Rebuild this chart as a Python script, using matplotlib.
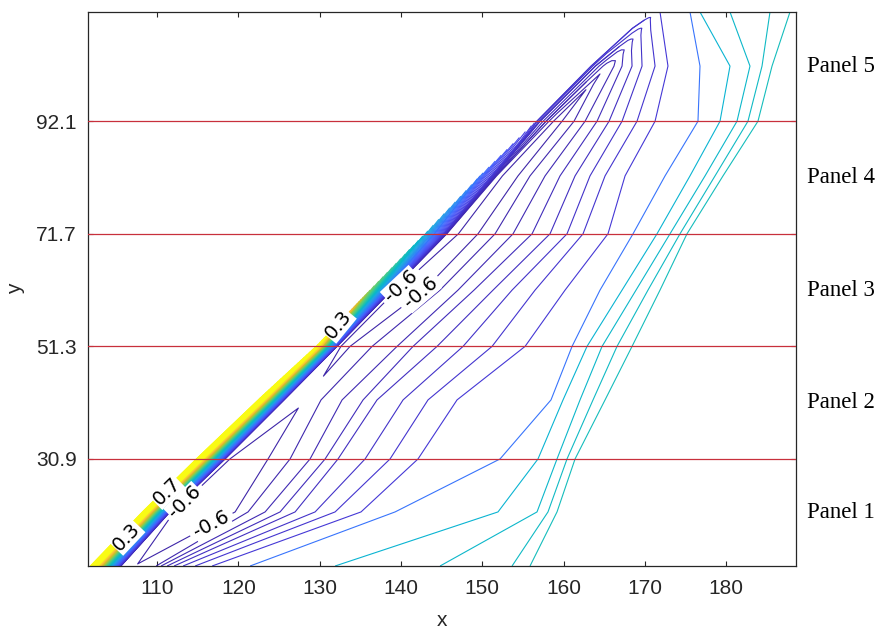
import numpy as np
import matplotlib
matplotlib.use("Agg")
import matplotlib.pyplot as plt
from matplotlib.colors import LinearSegmentedColormap, Normalize
import matplotlib.transforms as mtransforms

# field sampled along rows of constant y; in every row the columns are:
# band edge, band middle, band inner edge, left arm, trough, right arm,
# 7 purple lines, wavy line, 4 teal lines, right edge
row_y = [11.5, 21.3, 30.9, 41.6, 51.3, 61.5, 71.7, 82.2, 92.1, 102.1, 111.9]

row_x = [
    [101.76, 102.90, 105.57, 105.94, 107.30, 108.65, 109.88, 110.49, 111.23, 112.09, 113.20, 114.68, 116.77, 121.44, 131.90, 144.81, 153.67, 155.88, 188.6],
    [108.16, 109.19, 111.60, 111.97, 115.29, 119.60, 121.19, 123.29, 125.13, 126.98, 129.44, 131.90, 135.09, 139.28, 151.94, 156.74, 158.09, 159.20, 188.6],
    [114.80, 115.87, 118.37, 118.86, 121.44, 123.65, 126.36, 128.82, 130.67, 132.26, 135.59, 138.66, 142.10, 152.19, 156.86, 159.20, 160.43, 161.42, 188.6],
    [122.42, 123.38, 125.62, 127.59, 128.33, 129.07, 130.17, 132.76, 135.34, 137.06, 140.26, 143.33, 146.90, 158.46, 159.94, 162.03, 163.63, 165.11, 188.6],
    [129.56, 130.33, 132.14, 132.51, 133.13, 133.74, 136.45, 139.52, 141.49, 144.44, 147.64, 151.21, 155.27, 161.05, 162.89, 164.74, 166.58, 168.43, 188.6],
    [136.20, 137.01, 138.91, 139.40, 141.12, 142.84, 144.81, 147.02, 148.99, 151.33, 153.67, 156.50, 160.19, 164.49, 167.20, 168.92, 170.39, 171.87, 188.6],
    [142.97, 143.78, 145.67, 147.02, 148.25, 149.48, 151.58, 153.79, 156.13, 158.34, 160.43, 162.40, 165.47, 168.55, 171.50, 173.10, 174.33, 175.19, 188.6],
    [149.73, 150.36, 151.82, 152.44, 153.42, 154.40, 155.88, 157.73, 159.57, 161.42, 163.26, 165.11, 167.57, 172.49, 175.56, 177.41, 178.64, 179.62, 188.6],
    [156.62, 157.12, 158.30, 158.70, 159.30, 159.82, 161.29, 162.65, 164.12, 165.60, 167.20, 169.04, 171.26, 176.54, 179.25, 181.34, 182.69, 183.92, 188.6],
    [163.30, 163.69, 164.60, 165.00, 165.35, 165.60, 165.84, 166.21, 167.20, 168.43, 169.66, 171.26, 172.85, 176.79, 180.48, 182.94, 184.42, 185.65, 188.6],
    [170.39, 170.54, 170.89, 171.13, 171.26, 171.26, 171.26, 171.26, 171.26, 171.26, 171.26, 171.26, 171.87, 175.56, 176.79, 180.48, 185.40, 187.86, 188.6],
]

row_z = [
    [1.00, 0.30, -0.595, -0.597, -0.598, -0.597, -0.59, -0.58, -0.57, -0.56, -0.55, -0.54, -0.53, -0.35, -0.14, -0.12, -0.10, -0.08, -0.05],
    [1.00, 0.30, -0.595, -0.598, -0.65, -0.60, -0.59, -0.58, -0.57, -0.56, -0.55, -0.54, -0.53, -0.35, -0.14, -0.12, -0.10, -0.08, -0.05],
    [1.00, 0.30, -0.595, -0.598, -0.65, -0.60, -0.59, -0.58, -0.57, -0.56, -0.55, -0.54, -0.53, -0.35, -0.14, -0.12, -0.10, -0.08, -0.05],
    [1.00, 0.30, -0.5905, -0.591, -0.592, -0.5915, -0.59, -0.58, -0.57, -0.56, -0.55, -0.54, -0.53, -0.35, -0.14, -0.12, -0.10, -0.08, -0.05],
    [0.60, 0.20, -0.595, -0.598, -0.61, -0.60, -0.59, -0.58, -0.57, -0.56, -0.55, -0.54, -0.53, -0.35, -0.14, -0.12, -0.10, -0.08, -0.05],
    [0.10, -0.10, -0.595, -0.598, -0.65, -0.60, -0.59, -0.58, -0.57, -0.56, -0.55, -0.54, -0.53, -0.35, -0.14, -0.12, -0.10, -0.08, -0.05],
    [-0.15, -0.30, -0.595, -0.598, -0.65, -0.60, -0.59, -0.58, -0.57, -0.56, -0.55, -0.54, -0.53, -0.35, -0.14, -0.12, -0.10, -0.08, -0.05],
    [-0.35, -0.45, -0.595, -0.598, -0.64, -0.60, -0.59, -0.58, -0.57, -0.56, -0.55, -0.54, -0.53, -0.35, -0.14, -0.12, -0.10, -0.08, -0.05],
    [-0.535, -0.56, -0.5925, -0.5975, -0.62, -0.60, -0.59, -0.58, -0.57, -0.56, -0.55, -0.54, -0.53, -0.35, -0.14, -0.12, -0.10, -0.08, -0.05],
    [-0.535, -0.555, -0.575, -0.5825, -0.585, -0.585, -0.585, -0.58, -0.57, -0.56, -0.55, -0.54, -0.53, -0.35, -0.14, -0.12, -0.10, -0.08, -0.05],
    [-0.5325, -0.5335, -0.534, -0.535, -0.535, -0.535, -0.535, -0.535, -0.535, -0.535, -0.535, -0.535, -0.53, -0.35, -0.14, -0.12, -0.10, -0.08, -0.05],
]

# interior contour levels; the steep band at the left edge gets a dense set
levels = [-0.60, -0.59, -0.58, -0.57, -0.56, -0.55, -0.54, -0.53, -0.35,
          -0.14, -0.12, -0.10, -0.08]
band_levels = np.round(np.arange(-0.58, 1.0, 0.02), 2)

panel_edges = [11.5, 30.9, 51.3, 71.7, 92.1, 111.9]
panel_names = ["Panel 1", "Panel 2", "Panel 3", "Panel 4", "Panel 5"]

# contour labels: (level, approximate spot)
band_labels = [(0.3, 106.4, 16.6), (0.7, 111.0, 25.3), (0.3, 133.1, 54.3)]
inner_labels = [(-0.6, 113.1, 23.5), (-0.6, 116.9, 18.4),
                (-0.6, 140.5, 61.5), (-0.6, 142.6, 60.6)]

# MATLAB parula
parula = LinearSegmentedColormap.from_list("parula", [
    (0 / 63, "#3e26a8"), (4 / 63, "#4537d5"), (8 / 63, "#484cf0"),
    (12 / 63, "#4563fd"), (16 / 63, "#327bfc"), (20 / 63, "#2b91ef"),
    (24 / 63, "#20a5e3"), (28 / 63, "#08b5d0"), (32 / 63, "#19bfb6"),
    (36 / 63, "#37c897"), (40 / 63, "#64cd6f"), (44 / 63, "#9dc943"),
    (48 / 63, "#d1bf27"), (52 / 63, "#f8ba3d"), (56 / 63, "#f9d62d"),
    (60 / 63, "#f5e327"), (63 / 63, "#f9fb15")])
norm = Normalize(vmin=-0.60, vmax=0.45)

X = np.array(row_x)
Y = np.repeat(np.array(row_y)[:, None], X.shape[1], axis=1)
Z = np.array(row_z)

fig = plt.figure(figsize=(8.85, 6.35), dpi=100)
ax = fig.add_axes([88 / 885, 1 - 566 / 635, 708 / 885, 554 / 635])
ax.set_xlim(101.5, 188.6)
ax.set_ylim(11.5, 111.9)

cs = ax.contour(X, Y, Z, levels=levels, cmap=parula, norm=norm, linewidths=0.8)
cs_band = ax.contour(X[:, :3], Y[:, :3], Z[:, :3], levels=band_levels,
                     cmap=parula, norm=norm, linewidths=0.8)


def snap(cset, lev, sx, sy):
    # closest point of the lev line to (sx, sy), in screen distance
    i = int(np.argmin(np.abs(np.array(cset.levels) - lev)))
    p = ax.transData.transform((sx, sy))
    best, bd = None, np.inf
    for poly in cset.get_paths()[i].to_polygons(closed_only=False):
        d = ax.transData.transform(poly)
        a, b = d[:-1], d[1:]
        ab = b - a
        t = np.clip(((p - a) * ab).sum(1) / np.maximum((ab ** 2).sum(1), 1e-12), 0, 1)
        q = a + t[:, None] * ab
        dist = np.hypot(*(q - p).T)
        k = int(np.argmin(dist))
        if dist[k] < bd:
            bd, best = dist[k], q[k]
    return tuple(ax.transData.inverted().transform(best))


texts = []
texts += cs_band.clabel(manual=[snap(cs_band, *s) for s in band_labels],
                        inline=True, fmt="%g", fontsize=14, colors="k")
texts += cs.clabel(manual=[snap(cs, *s) for s in inner_labels],
                   inline=True, fmt="%g", fontsize=14, colors="k")
for t in texts:
    t.set_bbox(dict(facecolor="white", edgecolor="none", pad=0.5))
    t.set_zorder(5)

for yv in panel_edges[1:-1]:
    ax.axhline(yv, color="#c8303c", lw=0.9, zorder=3)

trans = mtransforms.blended_transform_factory(ax.transAxes, ax.transData)
for name, lo, hi in zip(panel_names, panel_edges[:-1], panel_edges[1:]):
    ax.text(1.015, (lo + hi) / 2, name, transform=trans, ha="left", va="center",
            fontsize=16.5, family="Liberation Serif")

ax.set_xticks([110, 120, 130, 140, 150, 160, 170, 180])
ax.set_yticks(panel_edges[1:-1])
ax.set_yticklabels(["30.9", "51.3", "71.7", "92.1"])
ax.tick_params(direction="in", top=True, right=True, length=3.6, width=0.8,
               labelsize=15, colors="#262626", labelcolor="#262626")
ax.tick_params(axis="x", pad=9)
ax.tick_params(axis="y", pad=8)
for lbl in ax.get_xticklabels() + ax.get_yticklabels():
    lbl.set_family("Liberation Sans")
for sp in ax.spines.values():
    sp.set_color("#262626")
    sp.set_linewidth(0.9)
ax.set_xlabel("x", fontsize=15, family="Liberation Sans", color="#262626", labelpad=10)
ax.set_ylabel("y", fontsize=15, family="Liberation Sans", color="#262626", labelpad=8)

fig.savefig("out.png", dpi=100)
